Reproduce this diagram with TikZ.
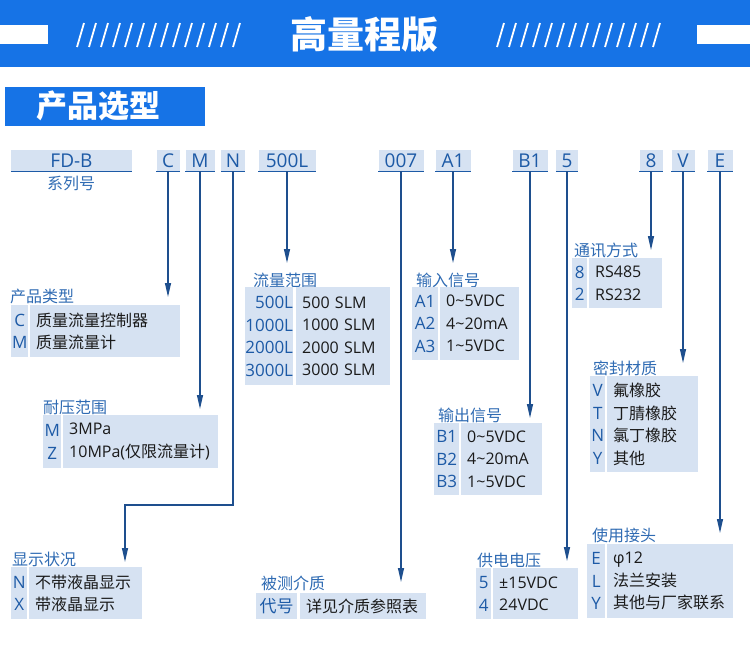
\documentclass[tikz,border=0pt]{standalone}
\usepackage{fontspec}
\setmainfont{Noto Sans CJK SC}
\newfontfamily\latfont{Open Sans}
\usetikzlibrary{arrows.meta}
\definecolor{cHead}{HTML}{1673E6}
\definecolor{cCell}{HTML}{D6E2F2}
\definecolor{cCode}{HTML}{1D5AA6}
\definecolor{cTitle}{HTML}{2F6BB3}
\definecolor{cInk}{HTML}{1A1A1A}
\definecolor{cArrow}{HTML}{1E4F8E}
\newcommand{\codefont}{\fontsize{19}{22}\selectfont\latfont}
\newcommand{\boxfont}{\fontsize{16}{22.5}\selectfont}
\newcommand{\keyfont}{\fontsize{17}{22.5}\selectfont\latfont}
\newcommand{\tld}{\textasciitilde}
\tikzset{
  codecell/.style={fill=cCell,text=cCode,font=\codefont,inner sep=0pt,minimum height=21pt},
  uline/.style={draw=cCode,line width=1.2pt},
  grptitle/.style={text=cTitle,font=\boxfont,inner sep=0pt,anchor=west},
  codecol/.style={fill=cCell,text=cCode,font=\keyfont,inner sep=0pt,align=center,anchor=north west},
  desccol/.style={fill=cCell,text=cInk,font=\boxfont,inner xsep=6pt,inner ysep=0pt,align=left,anchor=north west,text width=#1},
  arr/.style={-{Triangle[length=14pt,width=6pt]},line width=1.2pt,draw=cArrow},
}

\begin{document}
\begin{tikzpicture}[x=1pt,y=-1pt]
  \useasboundingbox (0,0) rectangle (750,657);
  \fill[cHead] (0,0) rectangle (750,67);
  \fill[white] (0,25) rectangle (48,44);
  \fill[white] (697,25) rectangle (750,44);
  \foreach \xs in {77,497}{\foreach \i in {0,...,13}{\draw[white,line width=1.8pt] (\xs+\i*12,47) -- ++(7,-24);}}
  \node[font=\fontsize{37}{40}\selectfont\bfseries,text=white,inner sep=0pt] (hdTitle) at (364,35) {高量程版};
  \node[fill=cHead,minimum width=200pt,minimum height=39pt,inner sep=0pt,anchor=north west] (selBar) at (5,87) {};
  \node[font=\fontsize{31}{33}\selectfont\bfseries,text=white,inner sep=0pt] (selTitle) at (98,106) {产品选型};

  \foreach \nm/\x/\w/\t in {cFD/71.5/121/FD-B, cC/168/23/C, cM/200/29/M, cN/233/24/N, c500/287/57/500L, c007/401/45/007, cA1/453/35/A1, cB1/530/35/B1, c5/567/22/5, c8/651/23/8, cV/683/23/V, cE/720/25/E}{
    \node[codecell,minimum width=\w pt] (\nm) at (\x,160.5) {\t};
    \draw[uline] (\nm.south west) -- (\nm.south east);}
  \node[text=cTitle,font=\boxfont,inner sep=0pt] (sNo) at (71,183) {系列号};

  \foreach \nm/\y in {cC/297, cM/409, c500/263, c007/582, cA1/263, cB1/418, c5/561, c8/250, cV/363, cE/533}{
    \coordinate (t\nm) at (\nm.south |- 0,\y);
    \draw[arr] (\nm.south) -- (t\nm);}
  \coordinate (kN) at (125,505);
  \coordinate (tN) at (125,562);
  \draw[arr] (cN.south) |- (kN) -- (tN);

  \node[grptitle] (tyT) at (10,296) {产品类型};
  \node[codecol,minimum width=17pt,minimum height=52pt] (tyK) at (11,305) {C\\M};
  \node[desccol=138pt,minimum height=52pt] (tyD) at (30,305) {质量流量控制器\\质量流量计};

  \node[grptitle] (prT) at (43,407) {耐压范围};
  \node[codecol,minimum width=18pt,minimum height=53pt] (prK) at (43,415) {M\\Z};
  \node[desccol=143pt,minimum height=53pt] (prD) at (63,415) {{\latfont 3MPa}\\{\latfont 10MPa(}仅限流量计{\latfont )}};

  \node[grptitle] (flT) at (253,280) {流量范围};
  \node[codecol,align=right,minimum width=48pt,minimum height=98pt] (flK) at (245,287) {500L\\1000L\\2000L\\3000L};
  \node[desccol=82pt,minimum height=98pt,font=\boxfont\latfont] (flD) at (296,287) {500 SLM\\1000 SLM\\2000 SLM\\3000 SLM};

  \node[grptitle] (inT) at (416,280) {输入信号};
  \node[codecol,minimum width=26pt,minimum height=73pt] (inK) at (412,287) {A1\\A2\\A3};
  \node[desccol=67pt,minimum height=73pt,font=\boxfont\latfont] (inD) at (440,287) {0\tld5VDC\\4\tld20mA\\1\tld5VDC};

  \node[grptitle] (cmT) at (574,250) {通讯方式};
  \node[codecol,minimum width=15pt,minimum height=50pt] (cmK) at (572,258) {8\\2};
  \node[desccol=61pt,minimum height=50pt,font=\boxfont\latfont] (cmD) at (589,258) {RS485\\RS232};

  \node[grptitle] (slT) at (593,368) {密封材质};
  \node[codecol,minimum width=15pt,minimum height=96pt] (slK) at (590,376) {V\\T\\N\\Y};
  \node[desccol=79pt,minimum height=96pt] (slD) at (607,376) {氟橡胶\\丁腈橡胶\\氯丁橡胶\\其他};

  \node[grptitle] (otT) at (438,415) {输出信号};
  \node[codecol,minimum width=25pt,minimum height=72pt] (otK) at (434,423) {B1\\B2\\B3};
  \node[desccol=69pt,minimum height=72pt,font=\boxfont\latfont] (otD) at (461,423) {0\tld5VDC\\4\tld20mA\\1\tld5VDC};

  \node[grptitle] (dsT) at (12,559) {显示状况};
  \node[codecol,minimum width=16pt,minimum height=52pt] (dsK) at (11,567) {N\\X};
  \node[desccol=101pt,minimum height=52pt] (dsD) at (29,567) {不带液晶显示\\带液晶显示};

  \node[grptitle] (mdT) at (261,583) {被测介质};
  \node[codecol,font=\fontsize{17}{22.5}\selectfont,minimum width=41pt,minimum height=26pt] (mdK) at (256,593) {代号};
  \node[desccol=114pt,minimum height=26pt] (mdD) at (300,593) {详见介质参照表};

  \node[grptitle] (pwT) at (477,560) {供电电压};
  \node[codecol,minimum width=15pt,minimum height=51pt] (pwK) at (476,568) {5\\4};
  \node[desccol=73pt,minimum height=51pt,font=\boxfont\latfont] (pwD) at (493,568) {±15VDC\\24VDC};

  \node[grptitle] (jnT) at (592,535) {使用接头};
  \node[codecol,minimum width=18pt,minimum height=74pt] (jnK) at (587,544) {E\\L\\Y};
  \node[desccol=114pt,minimum height=74pt] (jnD) at (607,544) {{\latfont φ12}\\法兰安装\\其他与厂家联系};
\end{tikzpicture}
\end{document}
